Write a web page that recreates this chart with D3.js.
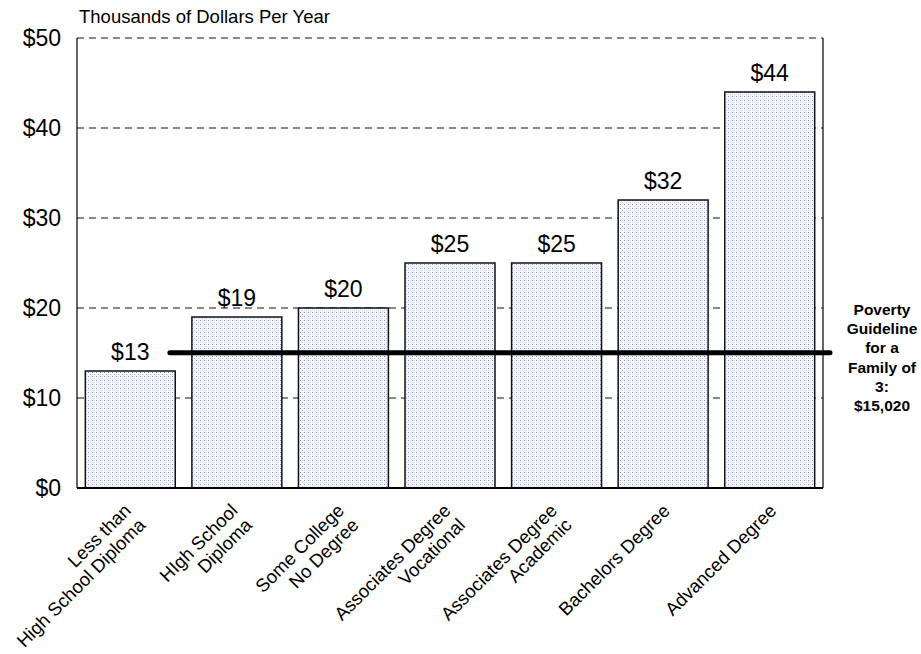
<!DOCTYPE html>
<html>
<head>
<meta charset="utf-8">
<script src="https://cdn.jsdelivr.net/npm/d3@7/dist/d3.min.js"></script>
<style>
  html, body { margin: 0; padding: 0; background: #fff; }
  svg { display: block; font-family: "Liberation Sans", Arial, Helvetica, sans-serif; }
</style>
</head>
<body>
<svg id="chart" width="921" height="654"></svg>
<script>
// Median earnings by education level (thousands of dollars per year)
const categories = [
  ["Less than", "High School Diploma"],
  ["HIgh School", "Diploma"],
  ["Some College", "No Degree"],
  ["Associates Degree", "Vocational"],
  ["Associates Degree", "Academic"],
  ["Bachelors Degree"],
  ["Advanced Degree"]
];
const earnings = [13, 19, 20, 25, 25, 32, 44];
const yTicks = [0, 10, 20, 30, 40, 50];
const povertyValue = 15.02;
const povertyLines = ["Poverty", "Guideline", "for a", "Family of", "3:", "$15,020"];
const yTitle = "Thousands of Dollars Per Year";

const svg = d3.select("#chart");
const plot = { left: 77, right: 823, top: 38, bottom: 488 };

const keys = categories.map(c => c.join(" "));
const x = d3.scaleBand()
  .domain(keys)
  .range([plot.left, plot.right])
  .paddingInner(0.156)
  .paddingOuter(0.078);

const y = d3.scaleLinear()
  .domain([0, 50])
  .range([plot.bottom, plot.top]);

// Dotted fill for the bars
const defs = svg.append("defs");
const pat = defs.append("pattern")
  .attr("id", "dots")
  .attr("patternUnits", "userSpaceOnUse")
  .attr("width", 4).attr("height", 4);
pat.append("rect").attr("width", 4).attr("height", 4).attr("fill", "#f9f9fe");
pat.append("rect").attr("x", 0).attr("y", 0).attr("width", 1).attr("height", 1).attr("fill", "#7f8cd9");
pat.append("rect").attr("x", 2).attr("y", 2).attr("width", 1).attr("height", 1).attr("fill", "#bcc3ef");
pat.append("rect").attr("x", 2).attr("y", 0).attr("width", 1).attr("height", 1).attr("fill", "#e3e6f8");
pat.append("rect").attr("x", 0).attr("y", 2).attr("width", 1).attr("height", 1).attr("fill", "#e3e6f8");

// Dashed gridlines
svg.append("g")
  .selectAll("line")
  .data(yTicks.filter(d => d > 0))
  .join("line")
  .attr("x1", plot.left).attr("x2", plot.right)
  .attr("y1", d => y(d)).attr("y2", d => y(d))
  .attr("stroke", "#111")
  .attr("stroke-width", 1)
  .attr("stroke-dasharray", "7,5");

// Plot frame: left and right sides
svg.append("line")
  .attr("x1", plot.left).attr("x2", plot.left)
  .attr("y1", plot.top).attr("y2", plot.bottom)
  .attr("stroke", "#000").attr("stroke-width", 1.2);
svg.append("line")
  .attr("x1", plot.right).attr("x2", plot.right)
  .attr("y1", plot.top).attr("y2", plot.bottom)
  .attr("stroke", "#000").attr("stroke-width", 1.2);

// Bars
svg.append("g")
  .selectAll("rect")
  .data(earnings)
  .join("rect")
  .attr("x", (d, i) => x(keys[i]))
  .attr("y", d => y(d))
  .attr("width", x.bandwidth())
  .attr("height", d => y(0) - y(d))
  .attr("fill", "url(#dots)")
  .attr("stroke", "#111")
  .attr("stroke-width", 1.5);

// Baseline
svg.append("line")
  .attr("x1", plot.left).attr("x2", plot.right)
  .attr("y1", y(0)).attr("y2", y(0))
  .attr("stroke", "#000").attr("stroke-width", 2);

// Value labels
svg.append("g")
  .selectAll("text")
  .data(earnings)
  .join("text")
  .attr("x", (d, i) => x(keys[i]) + x.bandwidth() / 2)
  .attr("y", d => y(d) - 11)
  .attr("text-anchor", "middle")
  .attr("font-size", 23)
  .attr("fill", "#000")
  .text(d => "$" + d);

// Y axis labels
const yAxis = d3.axisLeft(y)
  .tickValues(yTicks)
  .tickFormat(d => "$" + d)
  .tickSize(0)
  .tickPadding(16);
const gy = svg.append("g")
  .attr("transform", `translate(${plot.left},0)`)
  .call(yAxis);
gy.select(".domain").remove();
gy.selectAll("text")
  .attr("font-size", 23)
  .attr("font-family", "'Liberation Sans', Arial, sans-serif")
  .attr("fill", "#000");

// Axis title
svg.append("text")
  .attr("x", 79)
  .attr("y", 23)
  .attr("font-size", 18.5)
  .attr("fill", "#000")
  .text(yTitle);

// Rotated category labels
const xl = svg.append("g")
  .selectAll("g")
  .data(categories)
  .join("g")
  .attr("transform", (d, i) => `translate(${x(keys[i]) + x.bandwidth() / 2},${plot.bottom}) rotate(-45)`);
xl.each(function (lines) {
  const n = lines.length;
  const u = -11.5 - 4 * (n - 1);
  const v0 = 22.5 - 4.5 * (n - 1);
  d3.select(this).selectAll("text")
    .data(lines)
    .join("text")
    .attr("x", u)
    .attr("y", (d, j) => v0 + j * 20.5)
    .attr("text-anchor", "end")
    .attr("font-size", 18.5)
    .attr("fill", "#000")
    .text(d => d);
});

// Poverty guideline
svg.append("line")
  .attr("x1", x(keys[0]) + x.bandwidth() * 0.94)
  .attr("x2", plot.right + 7)
  .attr("y1", y(povertyValue)).attr("y2", y(povertyValue))
  .attr("stroke", "#000")
  .attr("stroke-width", 5)
  .attr("stroke-linecap", "round");

svg.append("g")
  .selectAll("text")
  .data(povertyLines)
  .join("text")
  .attr("x", 882)
  .attr("y", (d, i) => 315 + i * 19.2)
  .attr("text-anchor", "middle")
  .attr("font-size", 15.5)
  .attr("font-weight", "bold")
  .attr("fill", "#000")
  .text(d => d);
</script>
</body>
</html>
